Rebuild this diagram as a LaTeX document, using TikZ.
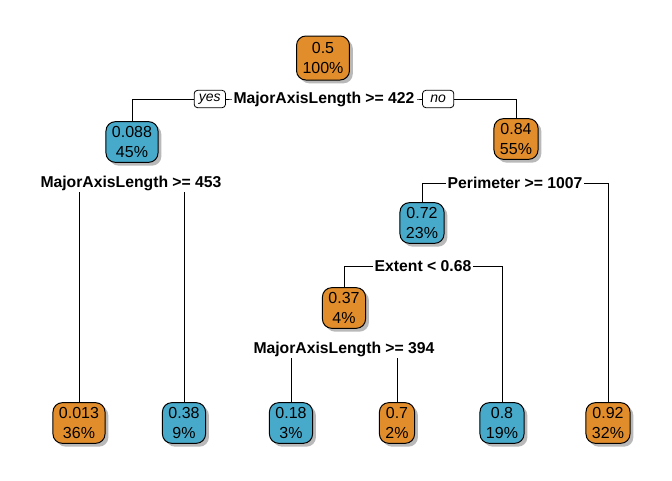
\documentclass[tikz,border=0pt]{standalone}
\usepackage{fontspec}
\setmainfont{Liberation Sans}
\usetikzlibrary{positioning, shadows, backgrounds}
\definecolor{treeorange}{RGB}{226,141,43}
\definecolor{treeblue}{RGB}{72,170,202}
\definecolor{shadowgray}{RGB}{185,185,185}
\tikzset{
  nodebox/.style={draw=black, fill=#1, rounded corners=7pt, line width=0.75pt,
              minimum height=30.5pt, inner xsep=4.5pt, inner ysep=2pt,
              align=center, text=black, font=\fontsize{12}{15.5}\selectfont,
              drop shadow={shadow xshift=2.5pt, shadow yshift=-2.5pt,
                           fill=shadowgray, opacity=1}},
  splitlabel/.style={fill=white, inner sep=1.5pt,
              font=\fontsize{11.8}{14}\selectfont\bfseries},
  yesno/.style={draw=black, fill=white, rounded corners=2.5pt, line width=0.6pt,
              minimum width=23.5pt, minimum height=13pt, inner sep=1pt,
              font=\fontsize{10.5}{12}\selectfont\itshape},
  branch/.style={line width=0.75pt, draw=black},
}

\begin{document}
\begin{tikzpicture}[x=0.75pt, y=-0.75pt]
  \useasboundingbox (0,0) rectangle (672,480);

  % Inner nodes
  \node[nodebox=treeorange, minimum height=33pt] (root) at (323,58) {0.5\\100\%};
  \node[nodebox=treeblue]   (n2)   at (132,142) {0.088\\45\%};
  \node[nodebox=treeorange] (n3)   at (516,139) {0.84\\55\%};
  \node[nodebox=treeblue]   (n6)   at (422,223) {0.72\\23\%};
  \node[nodebox=treeorange] (n12)  at (344,308) {0.37\\4\%};

  % Leaves
  \node[nodebox=treeorange] (l1) at (79,423)  {0.013\\36\%};
  \node[nodebox=treeblue]   (l2) at (184,423) {0.38\\9\%};
  \node[nodebox=treeblue]   (l3) at (291,423) {0.18\\3\%};
  \node[nodebox=treeorange] (l4) at (397,423) {0.7\\2\%};
  \node[nodebox=treeblue]   (l5) at (502,423) {0.8\\19\%};
  \node[nodebox=treeorange] (l6) at (608,423) {0.92\\32\%};

  % Split labels
  \node[splitlabel] (s1) at (324,99)  {MajorAxisLength >= 422};
  \node[splitlabel] (s2) at (131,183) {MajorAxisLength >= 453};
  \node[splitlabel] (s3) at (515,183) {Perimeter >= 1007};
  \node[splitlabel] (s4) at (423,266) {Extent < 0.68};
  \node[splitlabel] (s5) at (344,349) {MajorAxisLength >= 394};

  \node[yesno, left=4pt of s1]  (yes) {yes};
  \node[yesno, right=4pt of s1] (no)  {no};

  % Branches
  \begin{scope}[on background layer]
    \draw[branch] (n2.north) |- (s1.center) -| (n3.north);
    \draw[branch] (l1.north) |- (s2.center) -| (l2.north);
    \draw[branch] (n6.north) |- (s3.center) -| (l6.north);
    \draw[branch] (n12.north) |- (s4.center) -| (l5.north);
    \draw[branch] (l3.north) |- (s5.center) -| (l4.north);
  \end{scope}
\end{tikzpicture}
\end{document}
